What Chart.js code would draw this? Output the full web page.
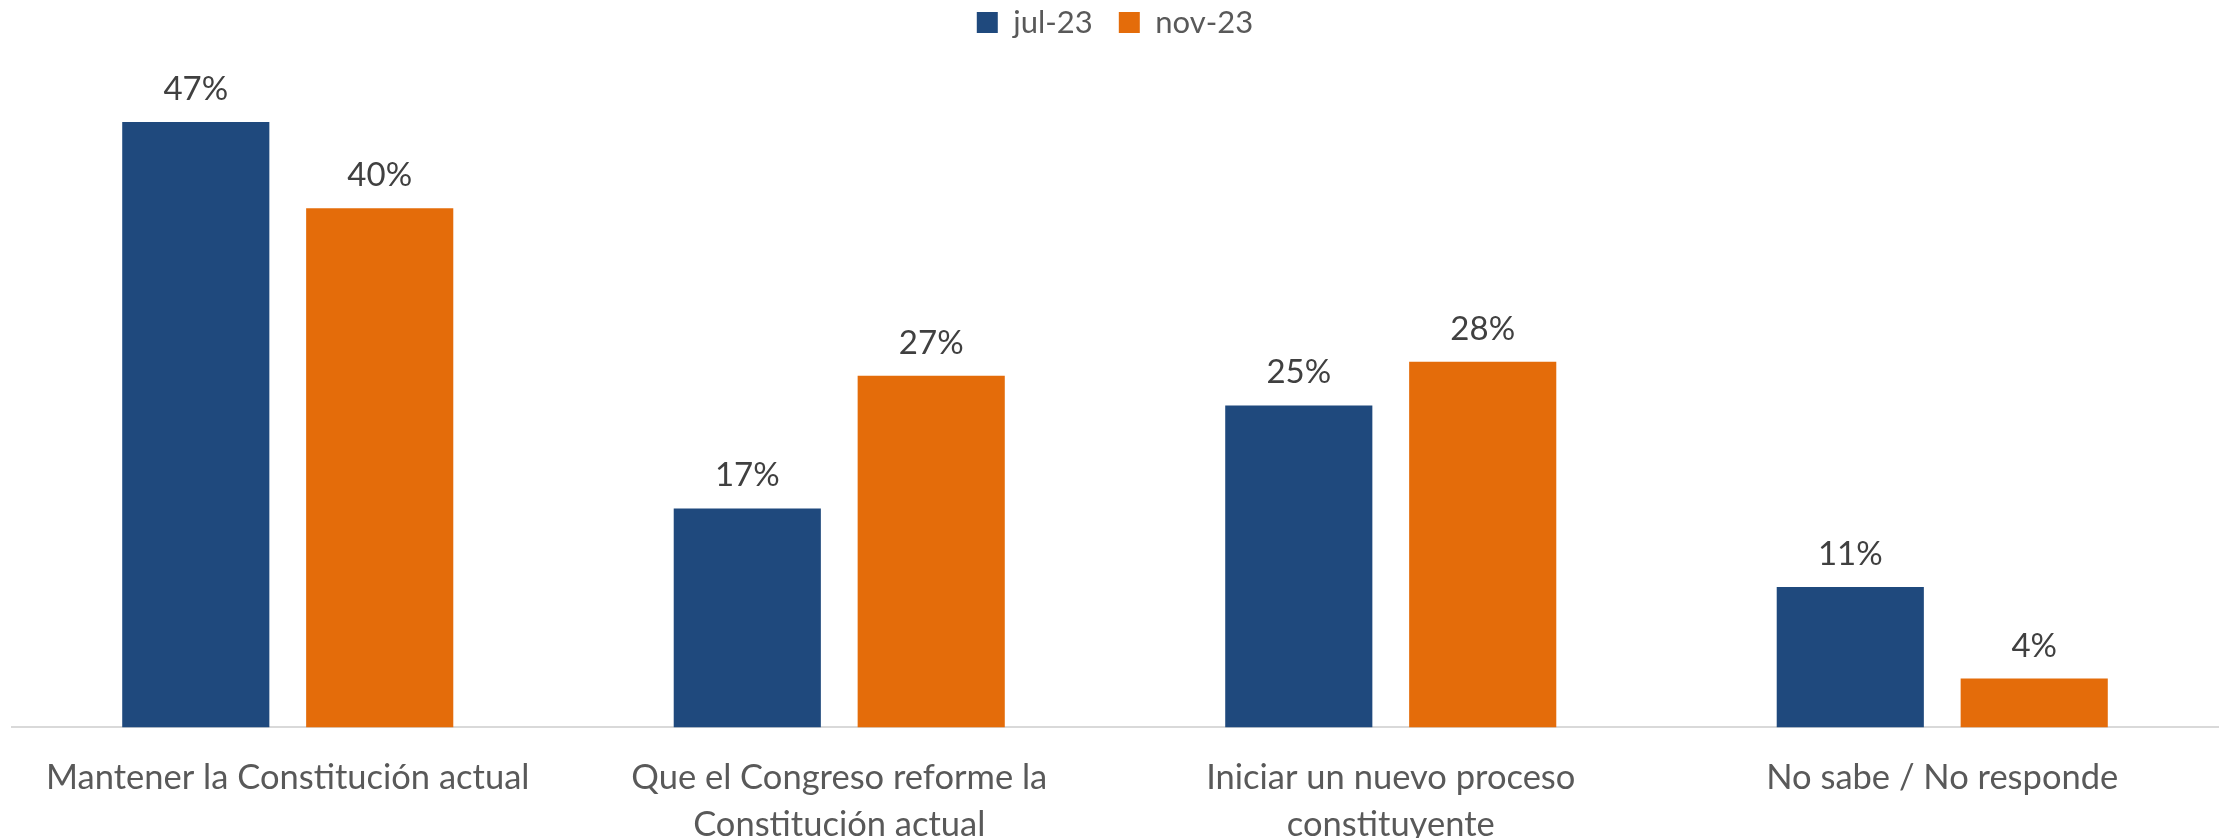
<!DOCTYPE html>
<html>
<head>
<meta charset="utf-8">
<script src="https://cdn.jsdelivr.net/npm/chart.js@4"></script>
<style>
  html, body { margin: 0; padding: 0; background: #ffffff; }
  #wrap { width: 2231px; height: 838px; }
</style>
</head>
<body>
<div id="wrap"><canvas id="c" width="2231" height="838"></canvas></div>
<script>
const categories = [
  "Mantener la Constitución actual",
  ["Que el Congreso reforme la", "Constitución actual"],
  ["Iniciar un nuevo proceso", "constituyente"],
  "No sabe / No responde"
];
const seriesNames = ["jul-23", "nov-23"];
// values (labels show them rounded)
const jul23 = [47, 17, 25, 10.9];
const nov23 = [40.3, 27.3, 28.4, 3.8];
const colors = ["#1F497D", "#E46C0A"];

const FONT = "Lato, 'Open Sans', sans-serif";

const valueLabels = {
  id: 'valueLabels',
  afterDatasetsDraw(chart) {
    const ctx = chart.ctx;
    ctx.save();
    ctx.font = "33px " + FONT;
    ctx.fillStyle = "#404040";
    ctx.textAlign = "center";
    ctx.textBaseline = "alphabetic";
    chart.data.datasets.forEach((ds, i) => {
      const meta = chart.getDatasetMeta(i);
      meta.data.forEach((bar, j) => {
        ctx.fillText(Math.round(ds.data[j]) + "%", bar.x, bar.y - 22);
      });
    });
    ctx.restore();
  }
};

new Chart(document.getElementById('c'), {
  type: 'bar',
  data: {
    labels: categories,
    datasets: [
      { label: seriesNames[0], data: jul23, backgroundColor: colors[0], borderWidth: 0 },
      { label: seriesNames[1], data: nov23, backgroundColor: colors[1], borderWidth: 0 }
    ]
  },
  options: {
    responsive: false,
    devicePixelRatio: 1,
    animation: false,
    categoryPercentage: 0.667,
    barPercentage: 0.8,
    layout: { padding: { left: 12, right: 13, top: -19, bottom: -38 } },
    plugins: {
      legend: {
        position: 'top',
        align: 'center',
        labels: {
          boxWidth: 21,
          boxHeight: 21,
          padding: 26,
          color: "#595959",
          font: { family: FONT, size: 31 }
        }
      },
      tooltip: { enabled: false }
    },
    scales: {
      x: {
        grid: { display: false, drawTicks: false },
        border: { display: true, color: "#D9D9D9", width: 2 },
        ticks: {
          color: "#595959",
          font: { family: FONT, size: 34.5, lineHeight: 1.37 },
          maxRotation: 0,
          autoSkip: false,
          padding: 27
        }
      },
      y: {
        display: false,
        min: 0,
        max: 52.75
      }
    }
  },
  plugins: [valueLabels]
});
</script>
</body>
</html>
